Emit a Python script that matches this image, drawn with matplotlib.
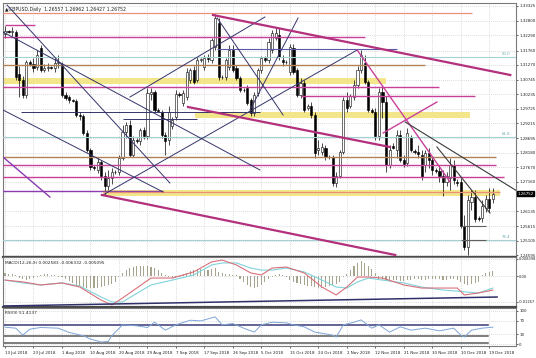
import matplotlib
matplotlib.use("Agg")
import matplotlib.pyplot as plt
from matplotlib.patches import Rectangle
import numpy as np

# GBPUSD daily candles, 13 Jul 2018 .. 20 Dec 2018 (Sunday bars included)
opens = [1.32340, 1.32445, 1.32410, 1.32410, 1.30940, 1.30730, 1.30205, 1.31360, 1.31290, 1.31185,
         1.31850, 1.31080, 1.31150, 1.31185, 1.31150, 1.31325, 1.31255, 1.30205, 1.30135, 1.30030,
         1.29995, 1.29505, 1.29470, 1.28875, 1.28280, 1.27685, 1.27580, 1.27860, 1.27370, 1.27020,
         1.27300, 1.27510, 1.27510, 1.28000, 1.28910, 1.29155, 1.28105, 1.28630, 1.28595, 1.28980,
         1.28770, 1.30240, 1.30310, 1.29680, 1.29610, 1.28805, 1.28630, 1.29120, 1.29435, 1.30240,
         1.29925, 1.30135, 1.30730, 1.31080, 1.30730, 1.31430, 1.31185, 1.31500, 1.31430, 1.31885,
         1.32725, 1.30835, 1.30835, 1.31185, 1.31780, 1.31150, 1.30800, 1.30380, 1.30450, 1.30030,
         1.29575, 1.30275, 1.31080, 1.31500, 1.31430, 1.31780, 1.32200, 1.32305, 1.31430, 1.31360,
         1.31010, 1.31850, 1.31080, 1.30205, 1.30625, 1.29750, 1.29820, 1.29505, 1.28280, 1.28210,
         1.28350, 1.28035, 1.28035, 1.27125, 1.27370, 1.28210, 1.30030, 1.29820, 1.30135, 1.30555,
         1.31080, 1.31325, 1.30660, 1.29680, 1.29610, 1.28770, 1.30310, 1.29960, 1.27755, 1.28420,
         1.28280, 1.28805, 1.27930, 1.27825, 1.28700, 1.28245, 1.28210, 1.28105, 1.27755, 1.28175,
         1.27930, 1.27580, 1.27545, 1.27370, 1.27160, 1.27300, 1.27755, 1.27160, 1.27160, 1.25620,
         1.24885, 1.26460, 1.26635, 1.25900, 1.25900, 1.26250, 1.26565, 1.26557]
highs = [1.32620, 1.32480, 1.32585, 1.32480, 1.31220, 1.30870, 1.31430, 1.31430, 1.31500, 1.31780,
         1.31955, 1.31290, 1.31325, 1.31220, 1.31500, 1.31605, 1.31360, 1.30310, 1.30205, 1.30065,
         1.30065, 1.29610, 1.29540, 1.28980, 1.28350, 1.27755, 1.28000, 1.27930, 1.27510, 1.27580,
         1.27650, 1.27580, 1.28105, 1.29155, 1.29260, 1.29330, 1.28770, 1.28700, 1.29050, 1.29085,
         1.30450, 1.30450, 1.30380, 1.29750, 1.29680, 1.28910, 1.29820, 1.29435, 1.30380, 1.30310,
         1.30380, 1.31150, 1.31150, 1.31220, 1.31535, 1.31500, 1.31605, 1.31640, 1.32200, 1.33040,
         1.32900, 1.30905, 1.31500, 1.31955, 1.31955, 1.31255, 1.30870, 1.30450, 1.30555, 1.30100,
         1.30310, 1.31150, 1.31570, 1.31570, 1.32200, 1.32480, 1.32550, 1.32550, 1.31605, 1.31430,
         1.31990, 1.31990, 1.31150, 1.30800, 1.30730, 1.29890, 1.29960, 1.29610, 1.28630, 1.28525,
         1.28455, 1.28105, 1.28105, 1.27510, 1.28280, 1.30135, 1.30310, 1.30240, 1.30730, 1.31220,
         1.31780, 1.31605, 1.30730, 1.29750, 1.29750, 1.30450, 1.30520, 1.30170, 1.28455, 1.28525,
         1.28980, 1.28980, 1.28105, 1.29050, 1.28805, 1.28315, 1.28455, 1.28280, 1.28280, 1.28350,
         1.28035, 1.27650, 1.27755, 1.27580, 1.27510, 1.28000, 1.27930, 1.27265, 1.27300, 1.26005,
         1.26705, 1.26880, 1.26880, 1.25970, 1.26530, 1.26705, 1.26950, 1.26962]
lows = [1.32200, 1.32375, 1.32270, 1.30730, 1.30135, 1.30100, 1.30100, 1.31220, 1.31010, 1.31080,
        1.31010, 1.31010, 1.31045, 1.31115, 1.31010, 1.31150, 1.30135, 1.30030, 1.29925, 1.29960,
        1.29435, 1.29330, 1.28805, 1.28210, 1.27580, 1.27580, 1.27475, 1.27230, 1.26705, 1.26880,
        1.27090, 1.27440, 1.27405, 1.27930, 1.28700, 1.28035, 1.28035, 1.28525, 1.28455, 1.28665,
        1.28665, 1.30030, 1.29610, 1.29610, 1.28700, 1.28105, 1.28455, 1.29015, 1.29330, 1.30135,
        1.29820, 1.30030, 1.30625, 1.30590, 1.30660, 1.31360, 1.31080, 1.31360, 1.31325, 1.31780,
        1.30730, 1.30765, 1.30730, 1.31080, 1.31010, 1.30730, 1.30310, 1.30310, 1.29855, 1.29470,
        1.29470, 1.30170, 1.30975, 1.31360, 1.31325, 1.31675, 1.32130, 1.31430, 1.31220, 1.31290,
        1.30905, 1.30940, 1.30135, 1.30100, 1.29610, 1.29680, 1.29400, 1.28000, 1.28105, 1.28105,
        1.27930, 1.27965, 1.27020, 1.26985, 1.27300, 1.28140, 1.29610, 1.29750, 1.30030, 1.30450,
        1.30975, 1.30590, 1.29610, 1.29575, 1.28630, 1.28630, 1.29400, 1.27510, 1.27650, 1.28315,
        1.28000, 1.27860, 1.27685, 1.27720, 1.28210, 1.28140, 1.28000, 1.27230, 1.27510, 1.27650,
        1.27405, 1.27475, 1.27160, 1.26670, 1.27020, 1.26880, 1.27090, 1.27020, 1.25550, 1.24780,
        1.24605, 1.26180, 1.25760, 1.25795, 1.25760, 1.26110, 1.26110, 1.26427]
closes = [1.32445, 1.32410, 1.32445, 1.30835, 1.30730, 1.30205, 1.31360, 1.31290, 1.31150, 1.31605,
          1.31080, 1.31150, 1.31185, 1.31150, 1.31325, 1.31360, 1.30205, 1.30100, 1.30030, 1.29995,
          1.29505, 1.29470, 1.28875, 1.28280, 1.27685, 1.27650, 1.27860, 1.27370, 1.27020, 1.27300,
          1.27510, 1.27510, 1.28000, 1.28910, 1.29155, 1.28105, 1.28630, 1.28595, 1.28980, 1.28770,
          1.30275, 1.30310, 1.29680, 1.29645, 1.28805, 1.28595, 1.29610, 1.29330, 1.30240, 1.30205,
          1.30275, 1.31010, 1.31080, 1.30660, 1.31430, 1.31465, 1.31500, 1.31465, 1.32130, 1.32900,
          1.30835, 1.30835, 1.31430, 1.31780, 1.31080, 1.30800, 1.30380, 1.30380, 1.29925, 1.29575,
          1.30205, 1.31080, 1.31500, 1.31430, 1.32060, 1.32375, 1.32375, 1.31535, 1.31360, 1.31360,
          1.31885, 1.31010, 1.30205, 1.30625, 1.29680, 1.29820, 1.29505, 1.28175, 1.28350, 1.28385,
          1.28035, 1.28035, 1.27125, 1.27370, 1.28210, 1.30030, 1.29750, 1.30170, 1.30555, 1.31080,
          1.31605, 1.30660, 1.29680, 1.29610, 1.28770, 1.30310, 1.29960, 1.27755, 1.28280, 1.28350,
          1.28805, 1.27930, 1.27790, 1.28875, 1.28280, 1.28210, 1.28140, 1.27335, 1.28175, 1.27930,
          1.27580, 1.27545, 1.27370, 1.27160, 1.27370, 1.27755, 1.27230, 1.27125, 1.25620, 1.24885,
          1.26530, 1.26635, 1.25865, 1.25865, 1.26320, 1.26565, 1.26250, 1.26752]

date_labels = ["13 Jul 2018", "23 Jul 2018", "1 Aug 2018", "10 Aug 2018", "20 Aug 2018",
               "29 Aug 2018", "7 Sep 2018", "17 Sep 2018", "26 Sep 2018", "5 Oct 2018",
               "15 Oct 2018", "24 Oct 2018", "2 Nov 2018", "12 Nov 2018", "21 Nov 2018",
               "30 Nov 2018", "10 Dec 2018", "19 Dec 2018"]
price_ticks = [1.33325, 1.32800, 1.32290, 1.31760, 1.31270, 1.30745, 1.30235, 1.29725, 1.29215,
               1.28695, 1.28180, 1.27670, 1.27160, 1.26135, 1.25615, 1.25105, 1.24595]
last_price = 1.26752

# horizontal levels: (price, first bar, last bar, style)
h_levels = [
    (1.33075, -1, 131.2, "salmon"),
    (1.32655, 0, 8.4, "magenta"),
    (1.32235, -1, 101, "magenta"),
    (1.31815, 59.6, 110, "slate"),
    (1.31535, -1, 144, "fibo"),
    (1.31255, -1, 118, "tan"),
    (1.30485, -1, 122, "magenta"),
    (1.30170, 83, 132, "magenta"),
    (1.29610, 4.5, 71.6, "navy"),
    (1.29365, 33, 54, "navy"),
    (1.28735, -1, 144, "fibo"),
    (1.28035, -1, 138, "tan"),
    (1.27755, -1, 138, "magenta"),
    (1.27335, -1, 140, "magenta"),
    (1.26845, -1, 44.4, "purple"),
    (1.26810, 27.5, 139, "salmon"),
    (1.25130, -1, 144, "fibo"),
    (1.25620, 128, 135, "gray"),
    (1.25130, 128, 135, "gray"),
]
# zones: (low, high, first bar, last bar)
zones = [(1.30590, 1.30800, -1, 107), (1.29400, 1.29610, 53.4, 130.6), (1.26670, 1.26880, 27.5, 139)]
fibo_labels = [("50.0", 1.31535), ("61.8", 1.28735), ("76.4", 1.25130)]

# trend lines: (bar0, price0, bar1, price1, style)
trend_lines = [
    (0.56, 1.33355, 46.3, 1.27125, "navy"),
    (-0.56, 1.32410, 71.6, 1.27580, "navy"),
    (-0.56, 1.29680, 44.4, 1.26810, "navy"),
    (-0.56, 1.28035, 12.6, 1.26635, "purple"),
    (27.5, 1.26705, 98.9, 1.31780, "navy"),
    (35.1, 1.30135, 73.0, 1.32935, "navy"),
    (68.8, 1.29680, 82.3, 1.32900, "navy"),
    (58.4, 1.33005, 141.9, 1.30905, "magenta_thick"),
    (59.6, 1.32900, 78.1, 1.29505, "navy"),
    (51.4, 1.29785, 108.1, 1.28385, "magenta_thick"),
    (98.9, 1.31780, 125.0, 1.27160, "magenta"),
    (106.2, 1.28875, 121.3, 1.29960, "magenta"),
    (112.4, 1.29260, 144.7, 1.26775, "dark"),
    (121.3, 1.28385, 136.2, 1.26075, "dark"),
    (27.2, 1.26705, 109.6, 1.24605, "magenta_thick"),
]

# MACD histogram, one value per bar (x 0.001)
macd_hist = [1.5, 1.0, 1.0, 0.3, -1.0, -1.5, -2.0, -1.5, -1.0,
             -0.5, 0.5, 1.0, 0.8, 0.5, 0.3, -0.3, -0.5,
             -1.5, -2.5, -3.5, -4.5, -5.0, -5.5, -6.0, -6.0, -6.0, -5.8, -5.5, -5.0, -4.5, -4.0, -3.0,
             -0.5,
             1.5, 3.0, 4.0, 4.5, 5.0, 5.0, 5.0, 4.8, 4.5, 4.0, 3.0,
             1.5, 0.5, -0.5, -1.0, -1.0, -0.5,
             1.0, 1.5, 2.5, 3.0, 3.5, 3.5, 3.0, 3.0, 3.5, 4.0,
             2.0, 1.5, 1.0, 0.8, 0.5, 0.3,
             -1.5, -3.0, -4.5, -5.5, -6.0, -5.5, -4.5, -3.0, -1.5,
             -0.5, 0.5, 0.8, 0.5, -0.5,
             -2.0, -3.0, -3.5, -4.0, -4.5, -5.0, -5.0, -5.5, -6.0, -6.0, -5.5, -5.0, -4.5, -4.0, -3.0,
             -0.5, 1.0,
             3.0, 5.0, 6.5, 7.5, 6.5, 5.0, 3.5, 1.5,
             -1.5, -2.0, -2.5, -2.5, -2.0, -2.0, -2.5, -2.5, -2.0, -2.0, -1.5, -1.5, -2.0, -2.0,
             -1.5, -1.5, -1.5, -1.5, -2.0, -2.0, -1.5, -1.5, -2.0,
             -3.0, -4.0, -4.5, -4.0, -3.5, -3.0,
             0.5, 1.5, 2.0, 2.5]
macd_bars = [0, 5, 10, 16, 21, 27, 30, 33, 41, 47, 53, 58, 61, 65, 69, 72, 75, 79, 84, 89,
             93, 96, 99, 102, 106, 112, 117, 123, 127, 129, 133, 137]
macd_red = [-0.0020, -0.0029, -0.0044, -0.0034, -0.0054, -0.0118, -0.0142, -0.0108, -0.0010, -0.0010,
            0.0020, 0.0069, 0.0078, 0.0054, 0.0015, 0.0005, 0.0039, 0.0044, 0.0015, -0.0054,
            -0.0093, -0.0054, -0.0005, -0.0005, -0.0010, -0.0044, -0.0059, -0.0059, -0.0059, -0.0093,
            -0.0083, -0.0069]
macd_cyan = [-0.0020, -0.0034, -0.0044, -0.0034, -0.0049, -0.0103, -0.0127, -0.0127, -0.0044, -0.0020,
             0.0005, 0.0054, 0.0064, 0.0064, 0.0039, 0.0029, 0.0029, 0.0039, 0.0020, -0.0020,
             -0.0054, -0.0059, -0.0029, -0.0010, -0.0020, -0.0034, -0.0054, -0.0069, -0.0074, -0.0078,
             -0.0083, -0.0059]
macd_trend = (-0.56, -0.0147, 138.2, -0.0103)

rsi_bars = [0, 3, 5, 7, 10, 15, 18, 22, 24, 27, 29, 30, 33, 37, 40, 42, 45, 48, 52, 55, 59, 61, 64,
            67, 70, 72, 75, 79, 81, 84, 87, 92, 93, 95, 98, 100, 103, 105, 108, 111, 114, 118, 122,
            126, 128, 129, 131, 134, 137]
rsi_vals = [51, 48, 27, 45, 50, 48, 35, 25, 15, 6, 8, 25, 58, 55, 50, 66, 42, 58, 72, 70, 82, 58, 62,
            48, 36, 58, 66, 64, 58, 52, 36, 27, 21, 58, 66, 73, 48, 58, 36, 52, 42, 48, 40,
            48, 27, 21, 42, 48, 51]
rsi_levels = [57.6, 25, 4]

styles = {
    "navy": dict(color="#34346c", lw=0.7),
    "slate": dict(color="#5a5aa8", lw=0.8),
    "magenta": dict(color="#c8409a", lw=1.0),
    "magenta_thick": dict(color="#b3307c", lw=1.6),
    "purple": dict(color="#8a3cb0", lw=1.0),
    "salmon": dict(color="#e8907a", lw=0.9),
    "tan": dict(color="#b0825a", lw=1.0),
    "fibo": dict(color="#a4d2d4", lw=0.8),
    "gray": dict(color="#606060", lw=0.8),
    "dark": dict(color="#3a3a3a", lw=0.8),
}

W, H = 536, 358
SMALL = 2.9


def box(x0, y0, x1, y1):
    return [x0 / W, 1 - y1 / H, (x1 - x0) / W, (y1 - y0) / H]


fig = plt.figure(figsize=(W / 100, H / 100), dpi=100)
fig.patch.set_facecolor("white")
ax = fig.add_axes(box(3, 3, 516, 257))
ax_macd = fig.add_axes(box(3, 257, 516, 307))
ax_rsi = fig.add_axes(box(3, 308, 516, 346))

n = len(closes)
label_bars = list(range(0, n, 8))[:len(date_labels)]
xlim = (-0.56, 143.5)
grid_kw = dict(color="#bcbcbc", lw=0.5, linestyle=(0, (1, 2)))

for a in (ax, ax_macd, ax_rsi):
    a.set_xlim(*xlim)
    a.set_xticks(label_bars)
    a.yaxis.tick_right()
    a.tick_params(axis="both", labelsize=SMALL, length=1.5, width=0.5, pad=0.8, colors="#222222")
    a.grid(True, **grid_kw)
    a.set_axisbelow(True)
    for s in a.spines.values():
        s.set_color("#7a7a7a")
        s.set_linewidth(0.8)
for a in (ax, ax_macd):
    a.tick_params(axis="x", labelbottom=False, length=0)
    a.spines["bottom"].set_color("#4a4a4a")
    a.spines["bottom"].set_linewidth(1.6)

# ---- main price panel ----
ax.set_ylim(1.24535, 1.33425)
ax.set_yticks(price_ticks)
ax.set_yticklabels([f"{p:.5f}" for p in price_ticks])

for lo, hi, b0, b1 in zones:
    ax.fill_between([b0, b1], lo, hi, color="#f3e58a", lw=0, zorder=1)

for i in range(n):
    o, h, l, c = opens[i], highs[i], lows[i], closes[i]
    ax.vlines(i, l, h, color="black", lw=0.5, zorder=3)
    face = "white" if c >= o else "black"
    ax.add_patch(Rectangle((i - 0.3, min(o, c)), 0.6, max(abs(c - o), 0.00012),
                           facecolor=face, edgecolor="black", lw=0.4, zorder=4))

for p, b0, b1, st in h_levels:
    ax.plot([b0, b1], [p, p], zorder=5, solid_capstyle="butt", **styles[st])

for b0, p0, b1, p1, st in trend_lines:
    ax.plot([b0, b1], [p0, p1], zorder=6, **styles[st])

for txt, p in fibo_labels:
    ax.text(141.8, p + 0.0003, txt, fontsize=2.8, color="#6aaab0", ha="right", va="bottom", zorder=7)

ax.annotate(f"{last_price:.5f}", xy=(1.0, last_price), xycoords=("axes fraction", "data"),
            xytext=(0.8, 0), textcoords="offset points", fontsize=SMALL, color="white",
            va="center", ha="left", annotation_clip=False,
            bbox=dict(boxstyle="square,pad=0.12", fc="black", ec="black"))

ax.text(0.004, 0.985, "\u25B2GBPUSD,Daily  1.26557 1.26962 1.26427 1.26752",
        transform=ax.transAxes, fontsize=3.3, color="#222222", va="top", ha="left")

# ---- MACD panel ----
ax_macd.set_ylim(-0.01519, 0.00931)
ax_macd.set_yticks([0.008398, 0.0, -0.01267])
ax_macd.set_yticklabels(["0.008398", "0.00", "-0.01267"])
ax_macd.tick_params(axis="y", labelsize=2.6)
ax_macd.bar(range(n), [v / 1000 for v in macd_hist], width=0.3, color="#a6a48c", zorder=2)
ax_macd.plot(macd_bars, macd_cyan, color="#7fd3dc", lw=0.8, zorder=3)
ax_macd.plot(macd_bars, macd_red, color="#d9707a", lw=0.8, zorder=4)
ax_macd.plot([macd_trend[0], macd_trend[2]], [macd_trend[1], macd_trend[3]],
             color="#30306a", lw=1.1, zorder=5)
ax_macd.text(0.004, 0.93, "MACD(12,26,9) 0.002583 -0.006332 -0.005095",
             transform=ax_macd.transAxes, fontsize=3.1, color="#222222", va="top", ha="left")

# ---- RSI panel ----
ax_rsi.set_ylim(-6, 109)
ax_rsi.set_yticks([100, 70, 30, 0])
ax_rsi.set_yticklabels(["100", "70", "30", "0"])
for k, lvl in enumerate(rsi_levels):
    ax_rsi.plot([-0.56, 135.5], [lvl, lvl], color="#3a3a78" if k == 0 else "#5a5a5a",
                lw=1.1, zorder=2)
ax_rsi.plot(rsi_bars, rsi_vals, color="#7ea6d8", lw=0.7, zorder=3)
ax_rsi.text(0.004, 0.93, "RSI(9) 51.4137", transform=ax_rsi.transAxes,
            fontsize=3.1, color="#222222", va="top", ha="left")
ax_rsi.set_xticklabels(date_labels, ha="left")
ax_rsi.tick_params(axis="x", labelsize=SMALL, length=1.5, pad=2)

fig.savefig("out.png", dpi=100)
